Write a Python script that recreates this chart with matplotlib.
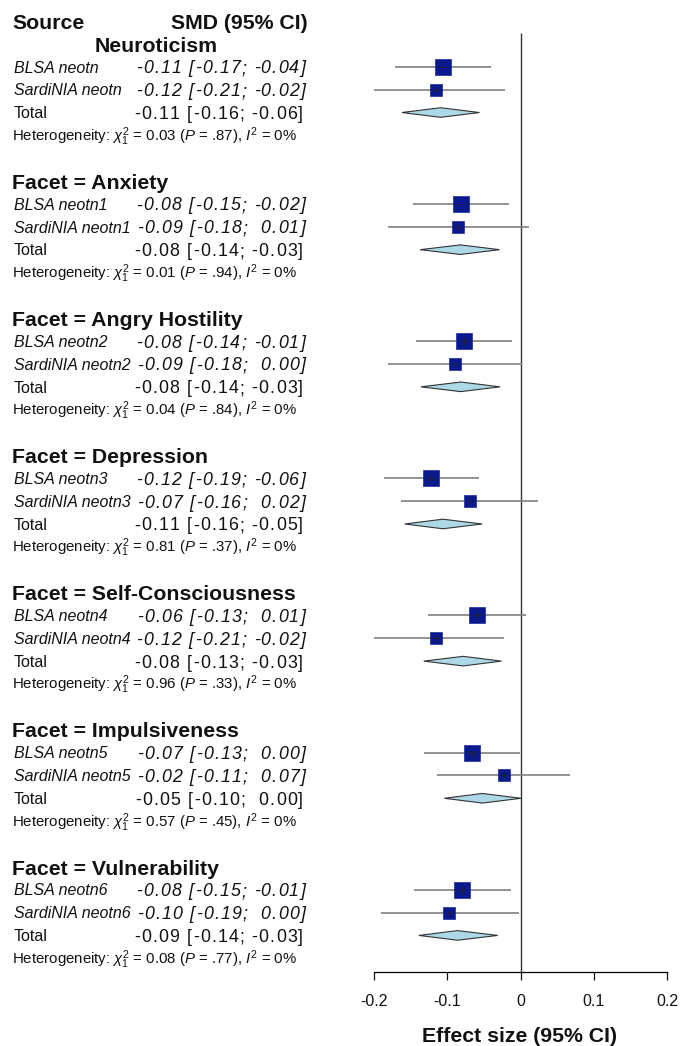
import numpy as np
import matplotlib
matplotlib.use("Agg")
import matplotlib.pyplot as plt
from matplotlib.patches import Polygon
from matplotlib.transforms import blended_transform_factory
from matplotlib.font_manager import findfont, FontProperties
from matplotlib.ft2font import FT2Font

plt.rcParams['font.family'] = ['Liberation Sans', 'DejaVu Sans']
plt.rcParams['mathtext.fontset'] = 'custom'
plt.rcParams['mathtext.rm'] = 'Liberation Sans'
plt.rcParams['mathtext.it'] = 'Liberation Sans:italic'
plt.rcParams['mathtext.bf'] = 'Liberation Sans:bold'

SQUARE_COLOR = '#0a1a8c'
DIAMOND_FILL = '#add8e6'
LINE_COLOR = '#808080'
TEXT_COLOR = '#111111'

# subgroup titles
groups = ['Neuroticism', 'Facet = Anxiety', 'Facet = Angry Hostility',
          'Facet = Depression', 'Facet = Self-Consciousness',
          'Facet = Impulsiveness', 'Facet = Vulnerability']
suffix = ['', '1', '2', '3', '4', '5', '6']

# BLSA study: estimate, lower, upper, weight (%)
blsa_est = [-0.106, -0.0815, -0.0774, -0.122, -0.0592, -0.066, -0.0792]
blsa_lo = [-0.171, -0.147, -0.143, -0.1857, -0.1256, -0.132, -0.146]
blsa_hi = [-0.0405, -0.016, -0.011, -0.057, 0.0077, -0.001, -0.0132]
blsa_w = [66, 66, 66, 68, 66, 64, 65]

# SardiNIA study
sard_est = [-0.1157, -0.0856, -0.0892, -0.0692, -0.1156, -0.0228, -0.097]
sard_lo = [-0.209, -0.181, -0.181, -0.1638, -0.207, -0.114, -0.1907]
sard_hi = [-0.0214, 0.011, 0.0023, 0.024, -0.0232, 0.067, -0.0018]

# pooled (fixed effect)
tot_est = [-0.109, -0.082, -0.0815, -0.106, -0.0783, -0.052, -0.086]
tot_lo = [-0.162, -0.137, -0.136, -0.158, -0.132, -0.104, -0.1388]
tot_hi = [-0.056, -0.0287, -0.0278, -0.0523, -0.026, 0.001, -0.031]

# heterogeneity
chi2 = [0.03, 0.01, 0.04, 0.81, 0.96, 0.57, 0.08]
pval = [0.87, 0.94, 0.84, 0.37, 0.33, 0.45, 0.77]
i2 = [0, 0, 0, 0, 0, 0, 0]

xticks = [-0.2, -0.1, 0, 0.1, 0.2]
xtick_labels = ['-0.2', '-0.1', '0', '0.1', '0.2']

W, H = 680, 1046
DPI = 100
ROW_TOP = -0.923
ROW_BOTTOM = 41.6
ROW_PX = 972 / (ROW_BOTTOM - ROW_TOP)

HEAD = 15.3
ROWF = 11.5
VALF = 12.8
HETF = 10.8
TRACK = 1.2  # extra px between characters of the SMD column


def fmt(v):
    r = round(v, 2) + 0.0
    if r == 0:
        r = 0.0
    return f"{r:5.2f}"


def ci_text(e, lo, hi):
    return f"{fmt(e).strip()} [{fmt(lo)}; {fmt(hi)}]"


fig = plt.figure(figsize=(W / DPI, H / DPI), dpi=DPI)
fig.patch.set_facecolor('white')
ax = fig.add_axes([374 / W, (H - 972) / H, (667 - 374) / W, 972 / H])
ax.set_xlim(-0.2, 0.2)
ax.set_ylim(ROW_BOTTOM, ROW_TOP)
for s in ['top', 'right', 'left']:
    ax.spines[s].set_visible(False)
ax.spines['bottom'].set_bounds(-0.2, 0.2)
ax.spines['bottom'].set_linewidth(0.9)
ax.set_yticks([])
ax.set_xticks(xticks)
ax.set_xticklabels(xtick_labels)
ax.tick_params(axis='x', direction='out', length=5.8, width=0.9,
               pad=10, labelsize=11.5, colors=TEXT_COLOR)

tr = blended_transform_factory(fig.transFigure, ax.transData)


def put(xpx, row, s, size, **kw):
    # baseline shifted so the cap height is centred on the row
    off = 0.36 * size / 0.72 / ROW_PX
    fig.text(xpx / W, row + off, s, transform=tr, fontsize=size,
             va='baseline', color=TEXT_COLOR, **kw)


_fonts = {}


def advances(s, style):
    if style not in _fonts:
        f = FT2Font(findfont(FontProperties(family='Liberation Sans', style=style)))
        f.set_size(VALF, DPI)
        _fonts[style] = f
    f = _fonts[style]
    return [f.load_char(ord(c)).linearHoriAdvance / 65536 for c in s]


def put_tracked(right_px, row, s, style='normal'):
    # right-aligned text drawn char by char with a little extra spacing
    adv = advances(s, style)
    x = right_px - (sum(adv) + TRACK * (len(s) - 1))
    for c, a in zip(s, adv):
        if c != ' ':
            put(x, row, c, VALF, fontstyle=style)
        x += a + TRACK


put(12, 0, 'Source', HEAD, fontweight='bold')
put(308, 0, 'SMD (95% CI)', HEAD, fontweight='bold', ha='right')

ax.vlines(0, 0.52, ROW_BOTTOM, color='#333333', lw=1.0, zorder=1)

for g in range(len(groups)):
    base = 1 + 6 * g
    if g == 0:
        put(95, base, groups[g], HEAD, fontweight='bold')
    else:
        put(12, base, groups[g], HEAD, fontweight='bold')

    studies = [('BLSA neotn' + suffix[g], blsa_est[g], blsa_lo[g], blsa_hi[g], blsa_w[g]),
               ('SardiNIA neotn' + suffix[g], sard_est[g], sard_lo[g], sard_hi[g], 100 - blsa_w[g])]
    for k, (name, e, lo, hi, w) in enumerate(studies):
        r = base + 1 + k
        put(14, r, name, ROWF, fontstyle='italic')
        put_tracked(305, r, ci_text(e, lo, hi), 'italic')
        ax.plot([lo, hi], [r, r], color=LINE_COLOR, lw=1.2, zorder=2,
                solid_capstyle='butt')
        side = 1.97 * np.sqrt(w) * 0.72
        ax.plot([e], [r], marker='s', ms=side, color=SQUARE_COLOR,
                mec='#1a2a9c', mew=0.5, zorder=3)
        ax.plot([e], [r], marker='+', ms=side * 0.5, color='#222222',
                mew=0.6, zorder=4)

    r = base + 3
    put(14, r, 'Total', ROWF)
    put_tracked(303, r, ci_text(tot_est[g], tot_lo[g], tot_hi[g]))
    h = 0.21
    ax.add_patch(Polygon([(tot_lo[g], r), (tot_est[g], r - h),
                          (tot_hi[g], r), (tot_est[g], r + h)],
                         closed=True, fc=DIAMOND_FILL, ec='#333333',
                         lw=0.8, zorder=3))

    p = f"{pval[g]:.2f}".lstrip('0')
    het = (r"Heterogeneity: $\chi^2_1$ = " + f"{chi2[g]:.2f}" +
           r" ($P$ = " + p + r"), $I^2$ = " + f"{i2[g]}%")
    put(12, base + 4, het, HETF)

fig.text(520 / W, (H - 1037) / H, 'Effect size (95% CI)', fontsize=HEAD,
         fontweight='bold', ha='center', va='center', color=TEXT_COLOR)

fig.savefig('out.png', dpi=DPI, facecolor='white')
